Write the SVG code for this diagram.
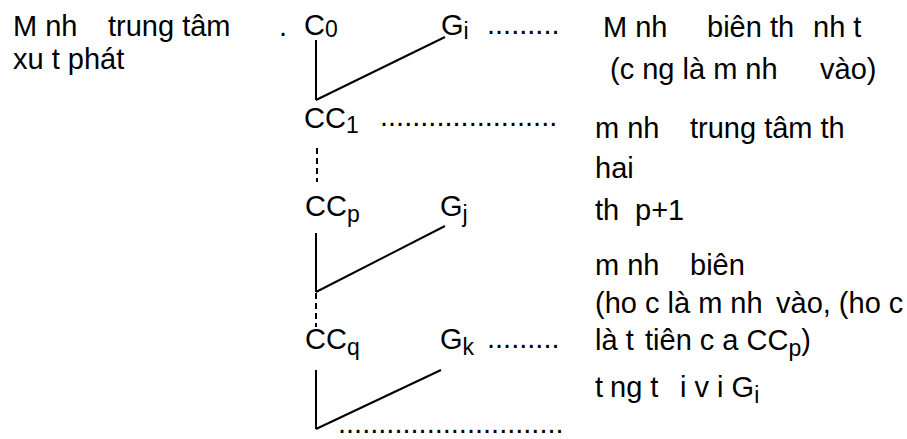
<svg xmlns="http://www.w3.org/2000/svg" width="907" height="439" viewBox="0 0 907 439">
<style>
text{font-family:"Liberation Sans",Arial,sans-serif;font-size:29px;fill:#000}
.sub{font-size:23px}
.ln{stroke:#000;stroke-width:2;fill:none}
.dash{stroke-dasharray:6,4}
</style>
<rect width="907" height="439" fill="#fff"/>
<g id="connectors">
<line class="ln" x1="316" y1="40" x2="316" y2="100"/>
<line class="ln" x1="316" y1="100" x2="445" y2="37"/>
<line class="ln dash" x1="317" y1="148" x2="317" y2="182"/>
<line class="ln" x1="316" y1="233" x2="316" y2="292"/>
<line class="ln" x1="316" y1="292" x2="445" y2="226"/>
<line class="ln dash" x1="316" y1="293" x2="316" y2="327"/>
<line class="ln" x1="316" y1="370" x2="316" y2="429"/>
<line class="ln" x1="316" y1="429" x2="441" y2="370"/>
</g>
<g id="label-start">
<text x="13" y="36">M nh<tspan x="108">trung tâm</tspan><tspan x="279">.</tspan></text>
<text x="13" y="69">xu t phát</text>
</g>
<g id="node-C0"><text x="304" y="35">C<tspan class="sub" dy="2">0</tspan></text></g>
<g id="node-Gi"><text x="441" y="35">G<tspan class="sub" dy="4">i</tspan></text></g>
<g id="dots-Gi"><text x="487" y="34">.........</text></g>
<g id="node-CC1"><text x="304" y="128">CC<tspan class="sub" dy="5">1</tspan></text></g>
<g id="dots-CC1"><text x="380" y="126">......................</text></g>
<g id="node-CCp"><text x="305" y="216">CC<tspan class="sub" dy="6">p</tspan></text></g>
<g id="node-Gj"><text x="440" y="216">G<tspan class="sub" dy="6">j</tspan></text></g>
<g id="node-CCq"><text x="305" y="349">CC<tspan class="sub" dy="6">q</tspan></text></g>
<g id="node-Gk"><text x="440" y="349">G<tspan class="sub" dy="6">k</tspan></text></g>
<g id="dots-Gk"><text x="487" y="348">.........</text></g>
<g id="dots-bottom"><text x="338" y="433">............................</text></g>
<g id="label-right">
<text x="603" y="37">M nh<tspan x="707">biên th</tspan><tspan x="813">nh t</tspan></text>
<text x="610" y="79">(c ng là m nh<tspan x="820">vào)</tspan></text>
<text x="595" y="138">m nh<tspan x="690">trung tâm th</tspan></text>
<text x="595" y="178">hai</text>
<text x="595" y="220">th<tspan x="635">p+1</tspan></text>
<text x="595" y="275">m nh<tspan x="690">biên</tspan></text>
<text x="595" y="313">(ho c là m nh<tspan x="776">vào, (ho c</tspan></text>
<text x="595" y="350">là t<tspan x="645">tiên c a CC</tspan><tspan class="sub" dy="6">p</tspan><tspan dy="-6">)</tspan></text>
<text x="595" y="397">t<tspan x="610">ng t</tspan><tspan x="680">i v i G</tspan><tspan class="sub" dy="6">i</tspan></text>
</g>
</svg>
